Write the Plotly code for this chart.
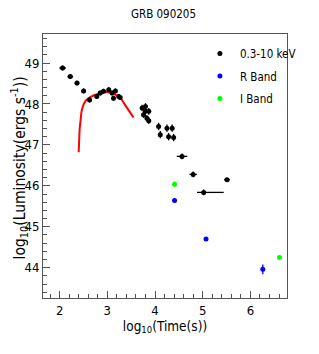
import plotly.graph_objects as go

# X-ray (0.3-10 keV) data
xray_x = [2.063, 2.224, 2.365, 2.503, 2.629, 2.78, 2.85, 2.92, 3.03, 3.10, 3.13, 3.17, 3.24, 3.27,
          3.73, 3.80, 3.87, 3.76, 3.83, 3.87, 3.80,
          4.075, 4.11, 4.25, 4.285, 4.36, 4.39,
          4.566, 4.80, 5.02, 5.51]
xray_y = [48.88, 48.67, 48.51, 48.32, 48.10, 48.18, 48.27, 48.31, 48.35, 48.27, 48.14, 48.32, 48.18, 48.16,
          47.90, 47.94, 47.82, 47.74, 47.65, 47.59, 47.82,
          47.45, 47.25, 47.41, 47.20, 47.41, 47.18,
          46.72, 46.28, 45.84, 46.15]
xray_xerr_minus = [0.07, 0.06, 0.05, 0.04, 0.04, 0.03, 0.03, 0.03, 0.03, 0.03, 0.03, 0.03, 0.03, 0.03,
                   0.02, 0.02, 0.02, 0.02, 0.02, 0.02, 0.02,
                   0.02, 0.02, 0.02, 0.02, 0.02, 0.02,
                   0.11, 0.077, 0.14, 0.06]
xray_xerr_plus = [0.07, 0.06, 0.05, 0.04, 0.04, 0.03, 0.03, 0.03, 0.03, 0.03, 0.03, 0.03, 0.03, 0.03,
                  0.02, 0.02, 0.02, 0.02, 0.02, 0.02, 0.02,
                  0.02, 0.02, 0.02, 0.02, 0.02, 0.02,
                  0.11, 0.077, 0.42, 0.06]
xray_yerr = [0.06, 0.06, 0.06, 0.06, 0.06, 0.06, 0.06, 0.06, 0.06, 0.06, 0.06, 0.06, 0.06, 0.06,
             0.08, 0.08, 0.08, 0.08, 0.08, 0.08, 0.08,
             0.09, 0.09, 0.09, 0.09, 0.09, 0.09,
             0.07, 0.07, 0.07, 0.05]

# R band
r_x = [4.41, 5.07, 6.26]
r_y = [45.64, 44.70, 43.96]
r_yerr = [0.05, 0.05, 0.12]

# I band
i_x = [4.41, 6.61]
i_y = [46.04, 44.25]
i_yerr = [0.07, 0.05]

# Model curve (red)
model_x = [2.40, 2.41, 2.42, 2.44, 2.47, 2.54, 2.64, 2.82, 2.99, 3.17, 3.27, 3.40, 3.55]
model_y = [46.82, 47.10, 47.38, 47.60, 47.87, 48.07, 48.17, 48.25, 48.29, 48.23, 48.15, 47.93, 47.67]

FONT = "DejaVu Sans Condensed, Liberation Sans Narrow, Liberation Sans, Arial, sans-serif"

fig = go.Figure()

fig.add_trace(go.Scatter(
    x=model_x, y=model_y, mode="lines",
    line=dict(color="#ff0000", width=2, shape="spline"),
    showlegend=False, hoverinfo="skip"))

fig.add_trace(go.Scatter(
    x=xray_x, y=xray_y, mode="markers", name="0.3-10 keV",
    marker=dict(color="black", size=5),
    error_x=dict(type="data", symmetric=False, array=xray_xerr_plus, arrayminus=xray_xerr_minus,
                 color="black", thickness=1.3, width=0),
    error_y=dict(type="data", array=xray_yerr, color="black", thickness=1.3, width=0),
    legendgroup="a"))

fig.add_trace(go.Scatter(
    x=r_x, y=r_y, mode="markers", name="R Band",
    marker=dict(color="#0000ff", size=5),
    error_y=dict(type="data", array=r_yerr, color="#0000ff", thickness=1.3, width=0),
    legendgroup="b"))

fig.add_trace(go.Scatter(
    x=i_x, y=i_y, mode="markers", name="I Band",
    marker=dict(color="#00ff00", size=5),
    error_y=dict(type="data", array=i_yerr, color="#00ff00", thickness=1.3, width=0),
    legendgroup="c"))

axis_common = dict(
    showline=True, linecolor="#555555", linewidth=1, mirror=True,
    ticks="inside", ticklen=7, tickcolor="#555555", tickwidth=1,
    showgrid=False, zeroline=False, automargin=True,
    tickfont=dict(family=FONT, size=13, color="black"),
    minor=dict(ticks="inside", ticklen=4, dtick=0.2, tickcolor="#555555", showgrid=False),
)

fig.update_xaxes(range=[1.652, 6.767], dtick=1, tick0=0, **axis_common,
                 title=dict(text="log<sub>10</sub>(Time(s))", font=dict(family=FONT, size=13.5, color="black"),
                            standoff=4))
fig.update_yaxes(range=[43.26, 49.71], dtick=1, tick0=0, **axis_common)

# y-axis title as a rotated annotation for precise placement
fig.add_annotation(
    text="log<sub>10</sub>(Luminosity(ergs s<sup>-1</sup>))",
    xref="paper", yref="paper", x=-0.097, y=0.492, xanchor="center", yanchor="middle",
    textangle=-90, showarrow=False,
    font=dict(family=FONT, size=15.5, color="black"))

# page body adds an 8px offset; figure is sized so it ends at the window edge
fig.update_layout(
    width=311, height=346,
    margin=dict(l=35, r=32, t=26, b=56, autoexpand=False),
    paper_bgcolor="white", plot_bgcolor="white",
    title=dict(text="GRB 090205", x=0.5, xanchor="center", y=1.0, yanchor="top",
               pad=dict(t=2, b=0, l=0, r=0),
               font=dict(family=FONT, size=11.5, color="black")),
    legend=dict(x=0.643, y=0.981, xanchor="left", yanchor="top", bgcolor="rgba(0,0,0,0)",
                font=dict(family=FONT, size=11.5, color="black"), tracegroupgap=3.5,
                itemsizing="trace", itemwidth=30),
    showlegend=True,
)

fig.write_html("out.html")
